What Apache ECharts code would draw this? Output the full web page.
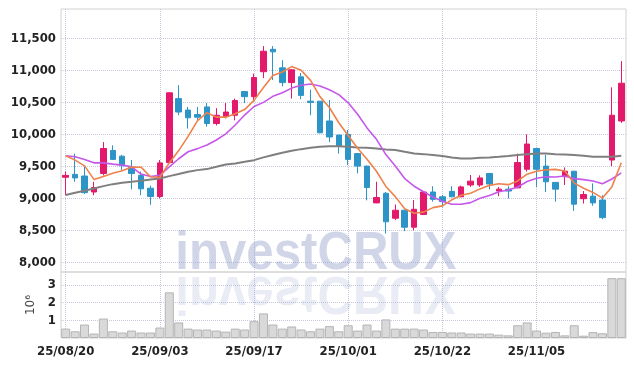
<!DOCTYPE html>
<html>
<head>
<meta charset="utf-8">
<script src="https://cdn.jsdelivr.net/npm/echarts@6/dist/echarts.min.js"></script>
<style>
  html, body { margin: 0; padding: 0; background: #fff; }
  #chart { width: 634px; height: 366px; }
</style>
</head>
<body>
<div id="chart"></div>
<script>
// trading days (YY/MM/DD)
var dates = [
  '25/08/20','25/08/21','25/08/22','25/08/25','25/08/26','25/08/27','25/08/28','25/08/29',
  '25/09/01','25/09/02','25/09/03','25/09/04','25/09/05','25/09/08','25/09/09','25/09/10',
  '25/09/11','25/09/12','25/09/15','25/09/16','25/09/17','25/09/18','25/09/19','25/09/22',
  '25/09/23','25/09/24','25/09/25','25/09/26','25/09/29','25/09/30','25/10/01','25/10/02',
  '25/10/10','25/10/13','25/10/14','25/10/15','25/10/16','25/10/17','25/10/20','25/10/21',
  '25/10/22','25/10/23','25/10/24','25/10/27','25/10/28','25/10/29','25/10/30','25/10/31',
  '25/11/03','25/11/04','25/11/05','25/11/06','25/11/07','25/11/10','25/11/11','25/11/12',
  '25/11/13','25/11/14','25/11/17','25/11/18'
];

// [open, close, low, high]
var ohlc = [
  [9330, 9360, 9050, 9420], [9375, 9320, 9260, 9700], [9350, 9090, 9070, 9520], [9100, 9170, 9050, 9260],
  [9390, 9780, 9360, 9880], [9750, 9610, 9600, 9830], [9660, 9510, 9440, 9680], [9490, 9390, 9140, 9600],
  [9360, 9150, 9050, 9420], [9160, 9030, 8900, 9200], [9030, 9555, 9000, 9600], [9560, 10650, 9550, 10660],
  [10560, 10350, 10300, 10770], [10380, 10260, 10090, 10430], [10310, 10270, 10220, 10430], [10430, 10170, 10120, 10490],
  [10170, 10300, 10140, 10410], [10280, 10350, 10250, 10490], [10300, 10530, 10220, 10560], [10670, 10590, 10490, 10680],
  [10590, 10890, 10540, 10950], [10980, 11300, 10880, 11380], [11330, 11290, 10850, 11380], [11040, 10810, 10750, 11160],
  [10810, 11010, 10560, 11020], [10900, 10610, 10550, 10960], [10520, 10500, 10300, 10700], [10520, 10025, 10020, 10520],
  [10210, 9960, 9880, 10540], [9990, 9820, 9700, 9990], [10000, 9610, 9520, 10070], [9700, 9505, 9390, 9710],
  [9505, 9170, 8970, 9510], [8930, 9015, 8925, 9260], [9080, 8635, 8450, 9100], [8690, 8815, 8660, 8905],
  [8815, 8550, 8490, 8820], [8550, 8830, 8500, 8975], [8750, 9100, 8740, 9105], [9100, 8985, 8950, 9190],
  [9025, 8950, 8860, 9055], [9110, 9025, 9020, 9190], [9025, 9180, 9020, 9200], [9210, 9270, 9180, 9365],
  [9210, 9320, 9180, 9360], [9390, 9225, 9140, 9395], [9115, 9145, 9035, 9180], [9145, 9115, 9000, 9190],
  [9165, 9560, 9160, 9700], [9455, 9850, 9420, 10000], [9780, 9455, 9180, 9790], [9505, 9260, 9100, 9680],
  [9250, 9145, 8950, 9255], [9340, 9425, 9210, 9485], [9425, 8910, 8805, 9430], [8995, 9060, 8920, 9115],
  [9035, 8930, 8885, 9235], [8975, 8700, 8675, 9050], [9600, 10300, 9505, 10735], [10210, 10800, 10180, 11145]
];

// moving averages as drawn
var ma5 = [
  9666, 9598, 9509, 9297, 9344, 9394, 9432, 9492, 9488, 9338,
  9327, 9555, 9747, 9969, 10217, 10340, 10270, 10270, 10324, 10388,
  10532, 10732, 10920, 10976, 11060, 11004, 10844, 10591, 10421, 10183,
  9983, 9784, 9613, 9424, 9187, 9028, 8837, 8769, 8786, 8856,
  8883, 8978, 9048, 9082, 9149, 9204, 9228, 9215, 9273, 9379,
  9425, 9448, 9454, 9427, 9239, 9160, 9094, 9005, 9180, 9558
];
var ma10 = [
  9665, 9650, 9609, 9556, 9556, 9536, 9520, 9494, 9380, 9341,
  9361, 9494, 9620, 9729, 9778, 9834, 9913, 10009, 10147, 10303,
  10436, 10501, 10595, 10650, 10724, 10768, 10788, 10756, 10699, 10622,
  10494, 10314, 10102, 9923, 9685, 9506, 9311, 9191, 9105, 9022,
  8956, 8908, 8909, 8934, 9003, 9044, 9103, 9132, 9178, 9264,
  9315, 9338, 9335, 9350, 9309, 9293, 9271, 9230, 9304, 9399
];
var maLong = [
  9052, 9088, 9119, 9156, 9192, 9223, 9244, 9259, 9275, 9297,
  9312, 9348, 9380, 9416, 9442, 9458, 9494, 9531, 9547, 9572,
  9598, 9641, 9677, 9713, 9744, 9770, 9791, 9806, 9817, 9817,
  9806, 9797, 9791, 9781, 9766, 9755, 9728, 9703, 9692, 9677,
  9661, 9641, 9625, 9625, 9634, 9641, 9650, 9661, 9677, 9692,
  9703, 9703, 9692, 9688, 9677, 9666, 9650, 9650, 9650, 9666
];

// volume, millions of shares
var volume = [
  0.53, 0.38, 0.76, 0.25, 1.10, 0.38, 0.31, 0.42, 0.31, 0.31,
  0.59, 2.58, 0.88, 0.53, 0.48, 0.48, 0.42, 0.36, 0.53, 0.48,
  0.95, 1.39, 0.76, 0.53, 0.65, 0.48, 0.38, 0.53, 0.67, 0.38,
  0.72, 0.42, 0.76, 0.42, 1.05, 0.53, 0.53, 0.53, 0.48, 0.34,
  0.34, 0.31, 0.31, 0.25, 0.25, 0.25, 0.19, 0.15, 0.72, 0.88,
  0.42, 0.30, 0.34, 0.15, 0.72, 0.13, 0.33, 0.27, 3.38, 3.38
];

var priceTicks = [8000, 8500, 9000, 9500, 10000, 10500, 11000, 11500];
var volTicks = [1, 2, 3];

var upColor = '#e3196b';
var downColor = '#2d94c8';
var gridLine = { color: '#c6c9de', type: 'dotted', width: 1 };
var labelFont = 'DejaVu Sans Condensed, Liberation Sans Narrow, sans-serif';
var markFont = 'bold 54px Liberation Sans, Arial, sans-serif';

var chart = echarts.init(document.getElementById('chart'));

var option = {
  animation: false,
  backgroundColor: '#fff',
  grid: [
    { left: 61, right: 8, top: 9, height: 263, show: true, borderColor: '#d2d2d2', borderWidth: 1 },
    { left: 61, right: 8, top: 272, height: 66, show: true, borderColor: '#d2d2d2', borderWidth: 1 }
  ],
  // watermark + its mirror image
  graphic: [
    {
      type: 'text', x: 316, y: 281.5, scaleX: 0.91, z: 1, silent: true,
      style: { text: 'investCRUX', font: markFont,
               fill: 'rgba(150,162,205,0.45)', textAlign: 'center', textVerticalAlign: 'bottom' }
    },
    {
      type: 'text', x: 316, y: 265, scaleX: 0.91, scaleY: -1, z: 1, silent: true,
      style: { text: 'investCRUX', font: markFont,
               fill: 'rgba(150,162,205,0.2)', textAlign: 'center', textVerticalAlign: 'bottom' }
    }
  ],
  xAxis: [
    {
      type: 'category', gridIndex: 0, data: dates, boundaryGap: true,
      axisLine: { show: false }, axisTick: { show: false }, axisLabel: { show: false },
      splitLine: { show: true, interval: 9, alignWithLabel: true, lineStyle: gridLine }
    },
    {
      type: 'category', gridIndex: 1, data: dates, boundaryGap: true,
      axisLine: { show: false }, axisTick: { show: false },
      axisLabel: { show: true, interval: 9, margin: 7, color: '#222', fontSize: 13,
                   fontWeight: 'bold', fontFamily: labelFont },
      splitLine: { show: true, interval: 9, alignWithLabel: true, lineStyle: gridLine }
    }
  ],
  yAxis: [
    {
      type: 'value', gridIndex: 0, min: 7850, max: 11960,
      axisLine: { show: false },
      axisTick: { show: false, customValues: priceTicks },
      axisLabel: {
        customValues: priceTicks, margin: 5, color: '#222', fontSize: 13,
        fontWeight: 'bold', fontFamily: labelFont,
        formatter: function (v) { return v.toLocaleString('en-US'); }
      },
      splitLine: { show: true, lineStyle: gridLine }
    },
    {
      type: 'value', gridIndex: 1, min: 0, max: 3.73,
      name: '10\u2076', nameLocation: 'middle', nameRotate: 90, nameGap: 22,
      nameTextStyle: { color: '#444', fontSize: 12, fontFamily: 'DejaVu Sans, sans-serif' },
      axisLine: { show: false },
      axisTick: { show: false, customValues: volTicks },
      axisLabel: { customValues: volTicks, margin: 5, color: '#222', fontSize: 13,
                   fontWeight: 'bold', fontFamily: labelFont },
      splitLine: { show: true, lineStyle: gridLine }
    }
  ],
  series: [
    {
      name: 'price', type: 'candlestick', xAxisIndex: 0, yAxisIndex: 0,
      data: ohlc, barWidth: '64%',
      itemStyle: { color: upColor, color0: downColor, borderColor: upColor, borderColor0: downColor, borderWidth: 1 }
    },
    {
      name: 'MA long', type: 'line', xAxisIndex: 0, yAxisIndex: 0, data: maLong,
      symbol: 'none', lineStyle: { color: '#7f7f7f', width: 2 }
    },
    {
      name: 'MA10', type: 'line', xAxisIndex: 0, yAxisIndex: 0, data: ma10,
      symbol: 'none', lineStyle: { color: '#c657ea', width: 1.6 }
    },
    {
      name: 'MA5', type: 'line', xAxisIndex: 0, yAxisIndex: 0, data: ma5,
      symbol: 'none', lineStyle: { color: '#ee824c', width: 1.6 }
    },
    {
      name: 'volume', type: 'bar', xAxisIndex: 1, yAxisIndex: 1, data: volume,
      barCategoryGap: '4%',
      itemStyle: { color: '#d9d9d9', borderColor: '#b4b4b4', borderWidth: 1 }
    }
  ]
};

chart.setOption(option);
</script>
</body>
</html>
